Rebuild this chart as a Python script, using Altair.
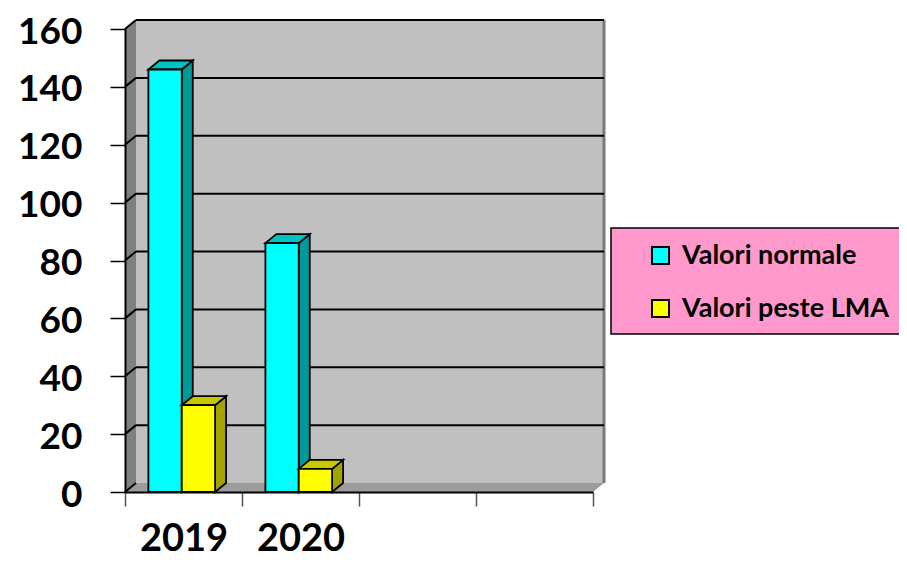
import altair as alt
import pandas as pd

# ---- data ----
categories = ["2019", "2020"]
slot_labels = ["2019", "2020", "", ""]
series = ["Valori normale", "Valori peste LMA"]
normal = [146, 86]
lma = [30, 8]
y_ticks = [0, 20, 40, 60, 80, 100, 120, 140, 160]

# ---- styles ----
front_colors = ["#00FFFF", "#FFFF00"]
top_colors = ["#00C4C4", "#C8C800"]
side_colors = ["#009999", "#A3A300"]
WALL = "#C0C0C0"
SIDEWALL = "#808080"
FLOOR = "#9C9C9C"
LEGEND_BG = "#FF99CC"
FONT = "Lato"

W, H = 468, 463
NSLOT = len(slot_labels)
YMAX = y_ticks[-1]
DX = 11 / (W / NSLOT)     # depth offset in x units
DY = 9 / (H / YMAX)       # depth offset in y units
BAR_START = 0.2
BAR_W = 0.285

xs = alt.Scale(domain=[0, NSLOT], nice=False, zero=False)
ys = alt.Scale(domain=[0, YMAX], nice=False, zero=False)

label_expr = "[" + ",".join("'%s'" % s for s in slot_labels) + ",''][datum.value]"
x_axis = alt.Axis(values=list(range(NSLOT + 1)), labelExpr=label_expr, title=None,
                  grid=False, tickSize=14, tickColor="#555555", tickWidth=1.5,
                  domainColor="black", domainWidth=2, labelFont=FONT,
                  labelFontWeight="bold", labelFontSize=38, labelColor="black",
                  labelOffset=W / NSLOT / 2, labelPadding=14, labelFlush=False,
                  labelOverlap=False, labelBaseline="top", zindex=1)
y_axis = alt.Axis(values=y_ticks, title=None, grid=False, tickSize=15,
                  tickColor="black", tickWidth=1.5, domainColor="black",
                  domainWidth=2, labelFont=FONT, labelFontWeight="bold",
                  labelFontSize=37, labelColor="black", labelPadding=28,
                  labelOffset=3, labelFlush=False, labelOverlap=False, zindex=1)


def X(f):
    return alt.X(f, type="quantitative", scale=xs, axis=x_axis, stack=None)


def Y(f):
    return alt.Y(f, type="quantitative", scale=ys, axis=y_axis, stack=None)


# ---- walls ----
back_wall = alt.Chart(pd.DataFrame([dict(a=DX, b=NSLOT + DX, c=DY, d=YMAX + DY)])).mark_rect(
    fill=WALL, stroke=None).encode(x=X("a"), x2="b", y=Y("c"), y2="d")

wall_edge = alt.Chart(pd.DataFrame([dict(a=NSLOT + DX, c=DY, d=YMAX + DY)])).mark_rule(
    color="#7A7A7A", strokeWidth=3).encode(x=X("a"), y=Y("c"), y2="d")

left_wall = alt.Chart(pd.DataFrame([dict(x=0, lo=0, hi=YMAX), dict(x=DX, lo=DY, hi=YMAX + DY)])).mark_area(
    fill=SIDEWALL, orient="vertical").encode(x=X("x"), y=Y("lo"), y2="hi")

floor = alt.Chart(pd.DataFrame([dict(y=0, xl=0, xr=NSLOT), dict(y=DY, xl=DX, xr=NSLOT + DX)])).mark_area(
    fill=FLOOR, orient="horizontal").encode(y=Y("y"), x=X("xl"), x2="xr")

grid_back = alt.Chart(pd.DataFrame([dict(a=DX, b=NSLOT + DX, y=v + DY) for v in y_ticks[1:]])).mark_rule(
    color="black", strokeWidth=2).encode(x=X("a"), x2="b", y=Y("y"))

diag_rows = []
for v in y_ticks:
    diag_rows += [dict(g=v, x=0, y=v), dict(g=v, x=DX, y=v + DY)]
grid_diag = alt.Chart(pd.DataFrame(diag_rows)).mark_line(color="black", strokeWidth=2).encode(
    x=X("x"), y=Y("y"), detail="g:N")

# ---- bars ----
values = [normal, lma]
bar_layers = []
for k, s in enumerate(series):
    front_rows, side_rows, top_rows = [], [], []
    for i, c in enumerate(categories):
        v = values[k][i]
        x0 = i + BAR_START + k * BAR_W
        x1 = x0 + BAR_W
        bid = f"{s}-{c}"
        front_rows.append(dict(series=s, cat=c, x0=x0, x1=x1, base=0, v=v))
        side_rows += [dict(bar=bid, x=x1, lo=0, hi=v), dict(bar=bid, x=x1 + DX, lo=DY, hi=v + DY)]
        top_rows += [dict(bar=bid, y=v, xl=x0, xr=x1), dict(bar=bid, y=v + DY, xl=x0 + DX, xr=x1 + DX)]
    side = alt.Chart(pd.DataFrame(side_rows)).mark_area(
        fill=side_colors[k], stroke="black", strokeWidth=1.8, orient="vertical").encode(
        x=X("x"), y=Y("lo"), y2="hi", detail="bar:N")
    top = alt.Chart(pd.DataFrame(top_rows)).mark_area(
        fill=top_colors[k], stroke="black", strokeWidth=1.8, orient="horizontal").encode(
        y=Y("y"), x=X("xl"), x2="xr", detail="bar:N")
    front = alt.Chart(pd.DataFrame(front_rows)).mark_rect(
        stroke="black", strokeWidth=1.8).encode(
        x=X("x0"), x2="x1", y=Y("base"), y2="v",
        fill=alt.Fill("series:N", scale=alt.Scale(domain=series, range=front_colors),
                      legend=alt.Legend(title=None, orient="none", legendX=522, legendY=213,
                                        symbolType="square", symbolSize=289,
                                        symbolStrokeColor="black", symbolStrokeWidth=2,
                                        labelFont=FONT, labelFontWeight="bold",
                                        labelFontSize=27, labelColor="black",
                                        rowPadding=25, labelOffset=8, padding=0,
                                        labelLimit=400)))
    bar_layers += [side, top, front]

# ---- legend background ----
legend_bg = alt.Chart(pd.DataFrame([dict(k=0)])).mark_rect(
    fill=LEGEND_BG, stroke="black", strokeWidth=1.5).encode(
    x=alt.value(486), x2=alt.value(800), y=alt.value(199), y2=alt.value(305))

chart = alt.layer(back_wall, wall_edge, left_wall, floor, grid_back, grid_diag,
                  *bar_layers, legend_bg).properties(
    width=W, height=H, autosize="none",
    padding={"left": 117, "top": 21, "right": 891 - 117 - W, "bottom": 550 - 21 - H},
    background="white",
).configure_view(stroke=None)

chart.save("out.html", embed_options={"renderer": "svg", "actions": False})
